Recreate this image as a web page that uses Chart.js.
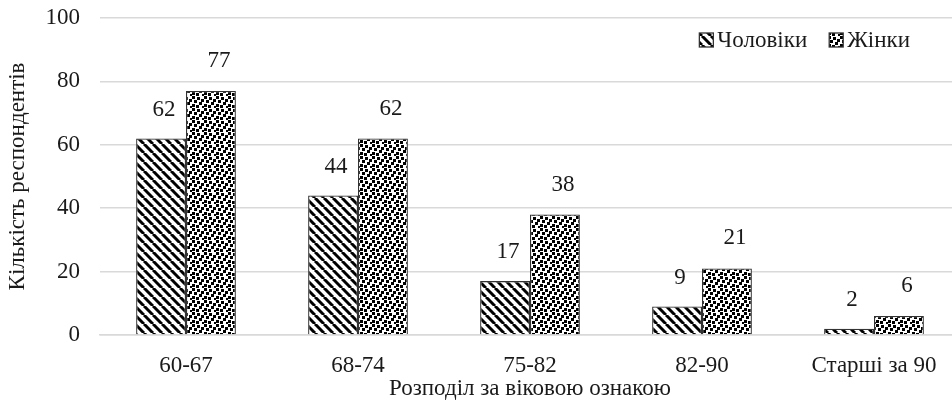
<!DOCTYPE html>
<html>
<head>
<meta charset="utf-8">
<script src="https://cdn.jsdelivr.net/npm/chart.js@4.4.1/dist/chart.umd.min.js"></script>
<style>
  body { margin: 0; overflow: hidden; background: #fff; }
</style>
</head>
<body>
<canvas id="ageChart" width="960" height="400"></canvas>
<script>
// Data
const ageGroups = ['60-67', '68-74', '75-82', '82-90', 'Старші за 90'];
const seriesNames = ['Чоловіки', 'Жінки'];
const menValues = [62, 44, 17, 9, 2];
const womenValues = [77, 62, 38, 21, 6];
const yTicks = [0, 20, 40, 60, 80, 100];

const FONT = "'Liberation Serif', 'DejaVu Serif', serif";
const INK = '#1a1a1a';

// Diagonal stripes "\" for men
function stripePattern() {
  const c = document.createElement('canvas');
  const s = 9;
  c.width = s; c.height = s;
  const g = c.getContext('2d');
  g.fillStyle = '#fff';
  g.fillRect(0, 0, s, s);
  g.strokeStyle = '#000';
  g.lineWidth = 3;
  for (let k = -1; k <= 1; k++) {
    g.beginPath();
    g.moveTo(k * s, 0);
    g.lineTo(k * s + s, s);
    g.stroke();
  }
  return g.createPattern(c, 'repeat');
}

// Scattered small squares for women
function dotPattern() {
  const c = document.createElement('canvas');
  const s = 12;
  c.width = s; c.height = s;
  const g = c.getContext('2d');
  g.fillStyle = '#fff';
  g.fillRect(0, 0, s, s);
  g.fillStyle = '#000';
  const dots = [[0, 0], [5, 1], [9, 3], [2, 4], [7, 6], [0, 8], [4, 9], [10, 10]];
  dots.forEach(d => g.fillRect(d[0], d[1], 3, 3));
  return g.createPattern(c, 'repeat');
}

const fills = [stripePattern(), dotPattern()];

// Value labels above bars
const valueLabels = {
  id: 'valueLabels',
  afterDatasetsDraw(chart) {
    const ctx = chart.ctx;
    ctx.save();
    ctx.font = '23px ' + FONT;
    ctx.fillStyle = INK;
    ctx.textAlign = 'center';
    ctx.textBaseline = 'middle';
    chart.getDatasetMeta(0).data.forEach((bar, i) => {
      ctx.fillText(menValues[i], bar.x + 3, bar.y - 29);
    });
    chart.getDatasetMeta(1).data.forEach((bar, i) => {
      ctx.fillText(womenValues[i], bar.x + 8, bar.y - 30);
    });
    ctx.restore();
  }
};

// Legend drawn inside the plot, top right
const insideLegend = {
  id: 'insideLegend',
  afterDraw(chart) {
    const ctx = chart.ctx;
    const area = chart.chartArea;
    ctx.save();
    ctx.font = '23px ' + FONT;
    ctx.textBaseline = 'middle';
    const box = 14, gap = 4, itemGap = 22;
    const widths = seriesNames.map(n => box + gap + ctx.measureText(n).width);
    const total = widths.reduce((a, b) => a + b, 0) + itemGap * (seriesNames.length - 1);
    let x = area.right - 50 - total;
    const y = area.top + 22;
    seriesNames.forEach((name, i) => {
      ctx.fillStyle = fills[i];
      ctx.fillRect(x, y - box / 2, box, box);
      ctx.strokeStyle = '#333';
      ctx.lineWidth = 1.3;
      ctx.strokeRect(x, y - box / 2, box, box);
      ctx.fillStyle = INK;
      ctx.fillText(name, x + box + gap, y + 1);
      x += widths[i] + itemGap;
    });
    ctx.restore();
  }
};

new Chart(document.getElementById('ageChart'), {
  type: 'bar',
  data: {
    labels: ageGroups,
    datasets: [
      {
        label: seriesNames[0],
        data: menValues,
        backgroundColor: fills[0],
        borderColor: '#333',
        borderWidth: 1.3
      },
      {
        label: seriesNames[1],
        data: womenValues,
        backgroundColor: fills[1],
        borderColor: '#333',
        borderWidth: 1.3
      }
    ]
  },
  options: {
    responsive: false,
    animation: false,
    layout: { padding: { top: 18, left: 0, right: 0, bottom: 0 } },
    datasets: {
      bar: { categoryPercentage: 0.58, barPercentage: 1 }
    },
    plugins: {
      legend: { display: false },
      tooltip: { enabled: false }
    },
    scales: {
      x: {
        afterFit: scale => { scale.height = 65; },
        grid: { display: false, drawTicks: false },
        border: { color: '#d9d9d9', width: 1.5 },
        ticks: { color: INK, padding: 19, font: { family: FONT, size: 23, lineHeight: 1 } },
        title: {
          display: true,
          text: 'Розподіл за віковою ознакою',
          color: INK,
          padding: { top: 0, bottom: 0 },
          font: { family: FONT, size: 23, lineHeight: 1 }
        }
      },
      y: {
        min: 0,
        max: 100,
        afterBuildTicks: scale => { scale.ticks = yTicks.map(v => ({ value: v })); },
        afterFit: scale => {
          scale.width = 100;
          scale.paddingTop = 0;
          scale.paddingBottom = 0;
        },
        grid: { color: '#d9d9d9', lineWidth: 1.5, drawTicks: false },
        border: { display: false },
        ticks: { color: INK, padding: 20, font: { family: FONT, size: 23 } },
        title: {
          display: true,
          text: 'Кількість респондентів',
          color: INK,
          padding: { top: 6, bottom: 0 },
          font: { family: FONT, size: 23, lineHeight: 1 }
        }
      }
    }
  },
  plugins: [valueLabels, insideLegend]
});
</script>
</body>
</html>
